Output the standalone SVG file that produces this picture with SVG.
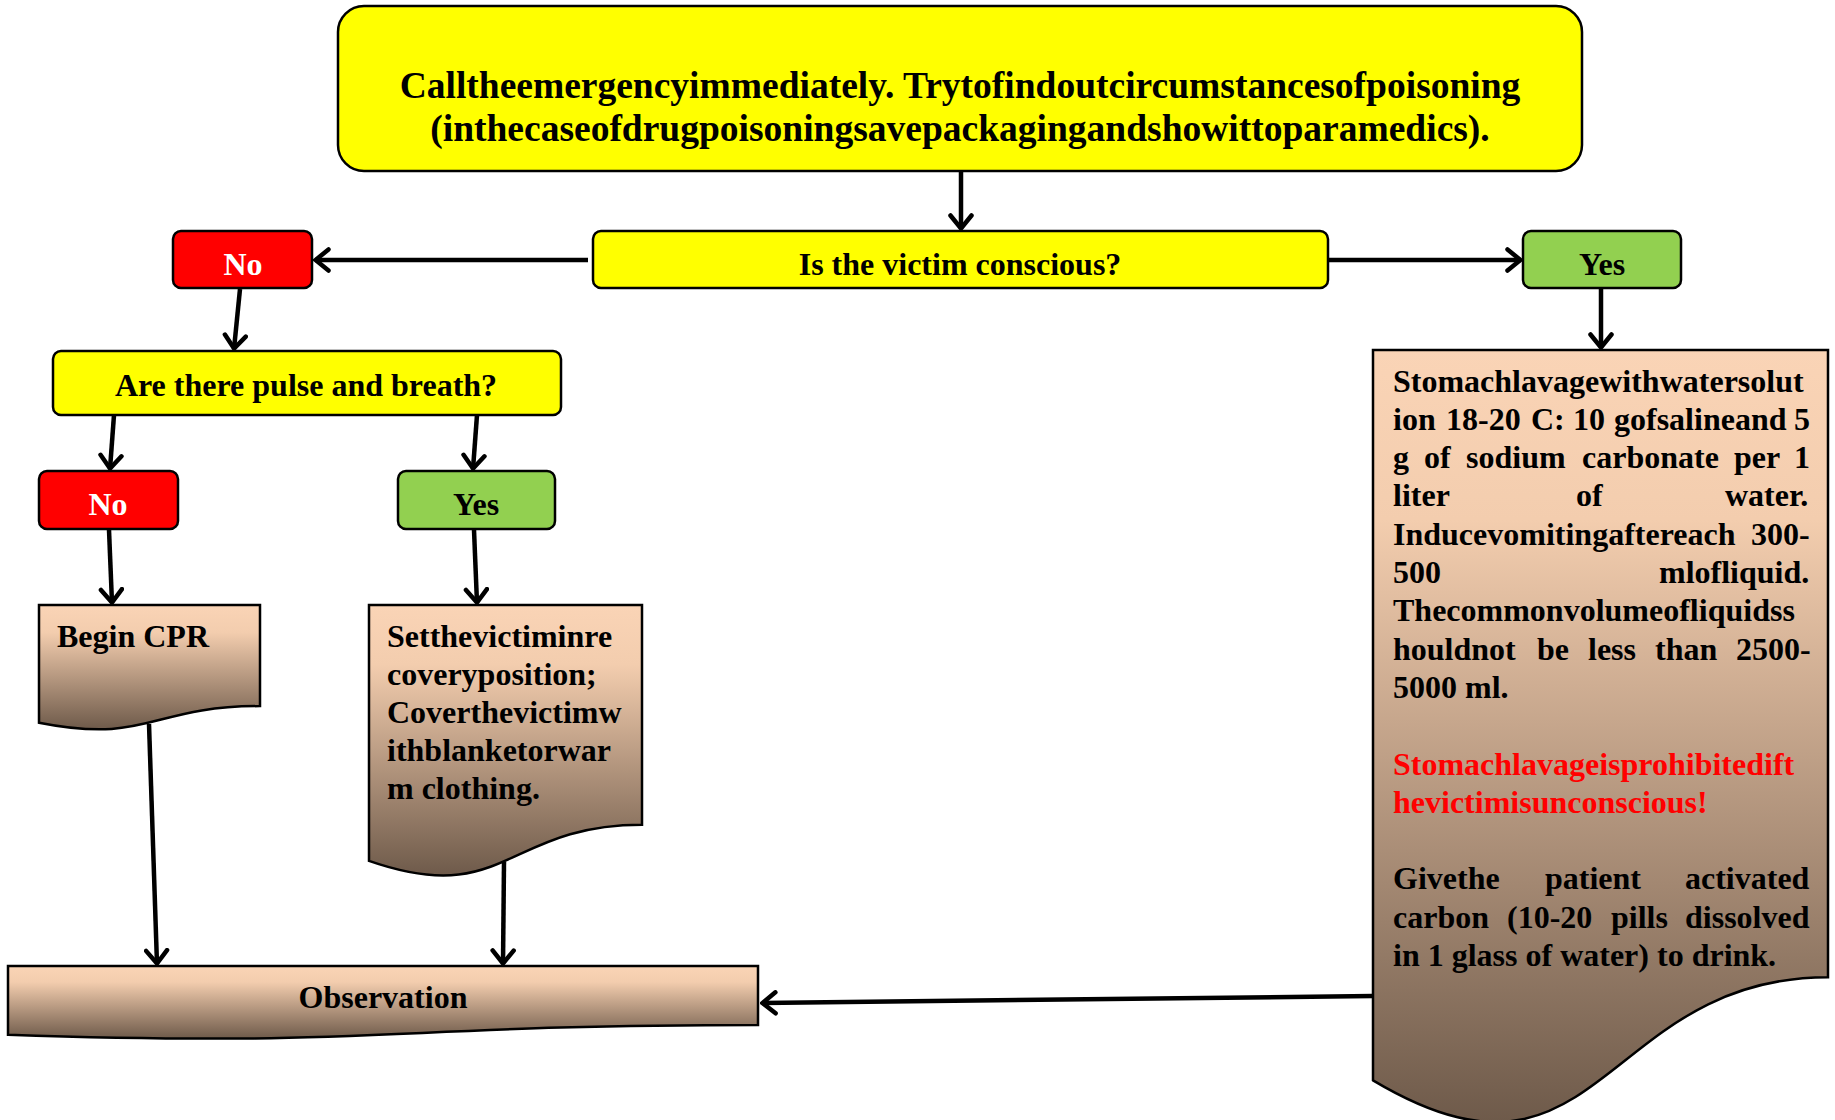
<svg xmlns="http://www.w3.org/2000/svg" width="1835" height="1120" viewBox="0 0 1835 1120">
  <defs>
    <linearGradient id="docFill" x1="0" y1="0" x2="0" y2="1">
      <stop offset="0" stop-color="#FAD4B6"/>
      <stop offset="0.22" stop-color="#F3CDAE"/>
      <stop offset="1" stop-color="#6E5A4A"/>
    </linearGradient>
    <marker id="arrow" viewBox="0 0 18 26" refX="16" refY="13" markerWidth="18" markerHeight="26" markerUnits="userSpaceOnUse" orient="auto">
      <path d="M2.5,2.5 L15.5,13 L2.5,23.5" fill="none" stroke="#000" stroke-width="4.5" stroke-linecap="round" stroke-linejoin="miter"/>
    </marker>
  </defs>
  <style>
    text { font-family: "Liberation Serif", "Times New Roman", serif; font-weight: bold; font-size: 32px; fill: #000; }
    .box { stroke: #000; stroke-width: 2.5; }
    .yellow { fill: #FFFF00; }
    .red { fill: #FF0000; }
    .green { fill: #92D050; }
    .doc { fill: url(#docFill); stroke: #000; stroke-width: 2.5; }
    .c { text-anchor: middle; }
    .white { fill: #FFFFFF; }
    .warn { fill: #FF0000; }
    .big { font-size: 37.5px; }
    .edge { fill: none; stroke: #000; stroke-width: 4.5; marker-end: url(#arrow); }
  </style>

  <!-- connectors -->
  <g id="connectors">
    <line class="edge" x1="961" y1="171" x2="961" y2="229"/>
    <line class="edge" x1="588" y1="260" x2="315" y2="260"/>
    <line class="edge" x1="1329" y1="260" x2="1521" y2="260"/>
    <line class="edge" x1="1601" y1="289" x2="1601" y2="348"/>
    <line class="edge" x1="240" y1="289" x2="234" y2="349"/>
    <line class="edge" x1="114" y1="415" x2="110" y2="469"/>
    <line class="edge" x1="477" y1="415" x2="473" y2="469"/>
    <line class="edge" x1="109" y1="530" x2="112" y2="603"/>
    <line class="edge" x1="474" y1="530" x2="477" y2="603"/>
    <line class="edge" x1="149" y1="724" x2="157" y2="964"/>
    <line class="edge" x1="504" y1="862" x2="503" y2="964"/>
    <line class="edge" x1="1373" y1="996" x2="762" y2="1003"/>
  </g>

  <!-- call emergency -->
  <g id="node-call">
    <rect class="box yellow" x="338" y="6" width="1244" height="165" rx="26"/>
    <text class="c big" x="960" y="98">Calltheemergencyimmediately. Trytofindoutcircumstancesofpoisoning</text>
    <text class="c big" x="960" y="141">(inthecaseofdrugpoisoningsavepackagingandshowittoparamedics).</text>
  </g>

  <!-- consciousness question -->
  <g id="node-conscious">
    <rect class="box yellow" x="593" y="231" width="735" height="57" rx="8"/>
    <text class="c" x="960" y="275">Is the victim conscious?</text>
  </g>

  <g id="node-no-1">
    <rect class="box red" x="173" y="231" width="139" height="57" rx="8"/>
    <text class="c white" x="243" y="275">No</text>
  </g>

  <g id="node-yes-1">
    <rect class="box green" x="1523" y="231" width="158" height="57" rx="8"/>
    <text class="c" x="1602" y="275">Yes</text>
  </g>

  <!-- pulse question -->
  <g id="node-pulse">
    <rect class="box yellow" x="53" y="351" width="508" height="64" rx="8"/>
    <text class="c" x="306" y="396">Are there pulse and breath?</text>
  </g>

  <g id="node-no-2">
    <rect class="box red" x="39" y="471" width="139" height="58" rx="8"/>
    <text class="c white" x="108" y="515">No</text>
  </g>

  <g id="node-yes-2">
    <rect class="box green" x="398" y="471" width="157" height="58" rx="8"/>
    <text class="c" x="476" y="515">Yes</text>
  </g>

  <!-- document steps -->
  <g id="node-cpr">
    <path class="doc" d="M39,605 H260 V706.1 C149.5,706.1 149.5,744.5 39,722.7 Z"/>
    <text x="57" y="647">Begin CPR</text>
  </g>

  <g id="node-recovery">
    <path class="doc" d="M369,605 H642 V824.7 C505.5,824.7 505.5,908.5 369,860.9 Z"/>
    <text x="387">
      <tspan x="387" y="647">Setthevictiminre</tspan>
      <tspan x="387" y="685">coveryposition;</tspan>
      <tspan x="387" y="723">Coverthevictimw</tspan>
      <tspan x="387" y="761">ithblanketorwar</tspan>
      <tspan x="387" y="799">m clothing.</tspan>
    </text>
  </g>

  <g id="node-lavage">
    <path class="doc" d="M1373,350 H1828 V977.2 C1600.5,977.2 1600.5,1216 1373,1080.4 Z"/>
    <text>
      <tspan x="1393" y="391.5">Stomachlavagewithwatersolut</tspan>
      <tspan x="1393" y="429.8">ion</tspan><tspan x="1446" y="429.8">18-20</tspan><tspan x="1531" y="429.8">C:</tspan><tspan x="1573" y="429.8">10</tspan><tspan x="1614" y="429.8">gofsalineand</tspan><tspan x="1794" y="429.8">5</tspan>
      <tspan x="1393" y="468.1">g</tspan><tspan x="1424" y="468.1">of</tspan><tspan x="1466" y="468.1">sodium</tspan><tspan x="1582" y="468.1">carbonate</tspan><tspan x="1734" y="468.1">per</tspan><tspan x="1794" y="468.1">1</tspan>
      <tspan x="1393" y="506.4">liter</tspan><tspan x="1576" y="506.4">of</tspan><tspan x="1725" y="506.4">water.</tspan>
      <tspan x="1393" y="544.7">Inducevomitingaftereach</tspan><tspan x="1751" y="544.7">300-</tspan>
      <tspan x="1393" y="583">500</tspan><tspan x="1659" y="583">mlofliquid.</tspan>
      <tspan x="1393" y="621.3">Thecommonvolumeofliquidss</tspan>
      <tspan x="1393" y="659.6">houldnot</tspan><tspan x="1537" y="659.6">be</tspan><tspan x="1588" y="659.6">less</tspan><tspan x="1655" y="659.6">than</tspan><tspan x="1736" y="659.6">2500-</tspan>
      <tspan x="1393" y="697.9">5000 ml.</tspan>
    </text>
    <text class="warn">
      <tspan x="1393" y="774.5">Stomachlavageisprohibitedift</tspan>
      <tspan x="1393" y="812.8">hevictimisunconscious!</tspan>
    </text>
    <text>
      <tspan x="1393" y="889.4">Givethe</tspan><tspan x="1545" y="889.4">patient</tspan><tspan x="1685" y="889.4">activated</tspan>
      <tspan x="1393" y="927.7">carbon</tspan><tspan x="1507" y="927.7">(10-20</tspan><tspan x="1611" y="927.7">pills</tspan><tspan x="1685" y="927.7">dissolved</tspan>
      <tspan x="1393" y="966">in 1 glass of water) to drink.</tspan>
    </text>
  </g>

  <g id="node-observation">
    <path class="doc" d="M8,966 H758 V1025 C383,1025 383,1047.5 8,1034.7 Z"/>
    <text class="c" x="383" y="1008">Observation</text>
  </g>
</svg>
